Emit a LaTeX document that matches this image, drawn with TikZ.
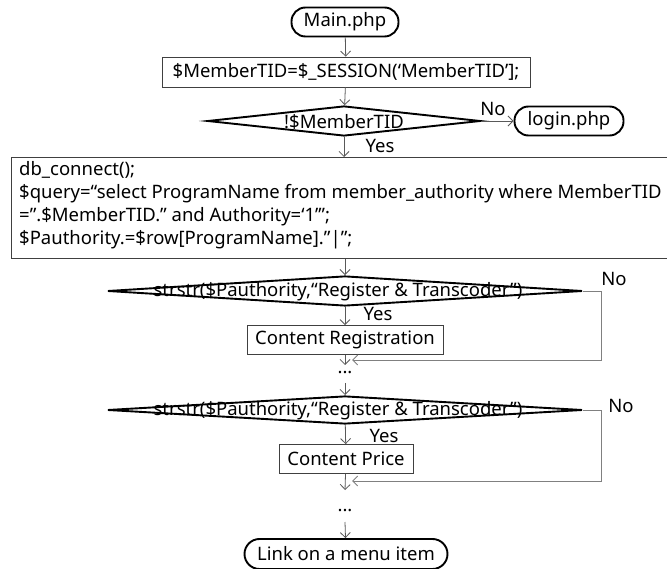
\documentclass[tikz,border=0pt]{standalone}
\usepackage{fontspec}
\setmainfont{Noto Sans}
\usetikzlibrary{arrows.meta,shapes.geometric,calc}
\begin{document}
\begin{tikzpicture}[x=1pt,y=-1pt,
  font=\fontsize{18.5}{21}\selectfont,
  terminal/.style={draw=black, line width=1.9pt, rounded corners=14pt,
    minimum height=29pt, inner sep=0pt},
  procbox/.style={draw=black!75, line width=0.8pt, minimum height=30pt, inner sep=0pt},
  decision/.style={draw=black, line width=1.9pt, shape=diamond, inner sep=0pt},
  conn/.style={draw=black!65, line width=0.8pt, -{Straight Barb[length=5pt,width=10pt]}},
  loopline/.style={draw=black!50, line width=0.9pt, -{Straight Barb[length=5pt,width=10pt]}},
  lbl/.style={inner sep=0pt}]
\useasboundingbox (0,0) rectangle (667,569);
\clip (0,0) rectangle (667,569);

% start and login terminals
\node[terminal, minimum width=107pt] (main) at (345,22) {Main.php};
\node[procbox, minimum width=368pt] (sess) at (346,72) {\$MemberTID=\$\_SESSION(‘MemberTID’];};
\node[decision, minimum width=273pt, minimum height=30pt] (d1) at (344,121) {};
\node[lbl] (d1t) at (344,122) {!\$MemberTID};
\node[terminal, minimum width=109pt] (login) at (569,121) {login.php};

% query block (runs off the right edge)
\node[procbox, anchor=north west, minimum width=680pt, minimum height=101pt] (query) at (11,157) {};
\node[lbl, anchor=north west, align=left, font=\fontsize{18.5}{23}\selectfont] (qtext) at (19,161)
  {db\_connect();\\
   \$query=“select ProgramName from member\_authority where MemberTID\\
   =”.\$MemberTID.” and Authority=‘1’”;\\
   \$Pauthority.=\$row[ProgramName].”|”;};

% first permission check
\node[lbl] (d2t) at (338,292) {strstr(\$Pauthority,“Register \& Transcoder”)};
\node[decision, minimum width=475pt, minimum height=30pt] (d2) at (345,291) {};
\node[procbox, minimum width=196pt, minimum height=29pt] (reg) at (345,340) {Content Registration};
\coordinate (m1) at (345,365);
\coordinate (r1) at (352,360);
\node[lbl] (dots1) at (345,373) {...};
\coordinate (s2) at (345,383);
\coordinate (n2) at (345,395);

% second permission check
\node[lbl] (d3t) at (338,411) {strstr(\$Pauthority,“Register \& Transcoder”)};
\node[decision, minimum width=475pt, minimum height=28pt] (d3) at (345,410) {};
\node[procbox, minimum width=134pt, minimum height=29pt] (price) at (346,459) {Content Price};
\coordinate (m2) at (345,490);
\coordinate (r2) at (352,481);
\node[lbl] (dots2) at (345,511) {...};
\coordinate (s3) at (345,522);
\node[terminal, minimum width=203pt, minimum height=30pt, rounded corners=15pt] (menu) at (346,554) {Link on a menu item};

% branch labels
\node[lbl] (no1) at (493,109) {No};
\node[lbl] (yes1) at (380,146) {Yes};
\node[lbl] (no2) at (614,279) {No};
\node[lbl] (yes2) at (378,314) {Yes};
\node[lbl] (no3) at (621,406) {No};
\node[lbl] (yes3) at (384,436) {Yes};

% connectors
\draw[conn] (main) -- (sess);
\draw[conn] (sess) -- (d1);
\draw[conn] (d1) -- (login);
\draw[conn] (d1) -- (d1 |- query.north);
\draw[conn] (query.south -| d2) -- (d2);
\draw[conn] (d2) -- (reg);
\draw[conn] (reg) -- (m1);
\draw[loopline] (d2.east) -- ++(18,0) |- (r1);
\draw[conn] (s2) -- (n2);
\draw[conn] (d3) -- (price);
\draw[conn] (price) -- (m2);
\draw[loopline] (d3.east) -- ++(18,0) |- (r2);
\draw[conn] (s3) -- (menu);
\end{tikzpicture}
\end{document}
